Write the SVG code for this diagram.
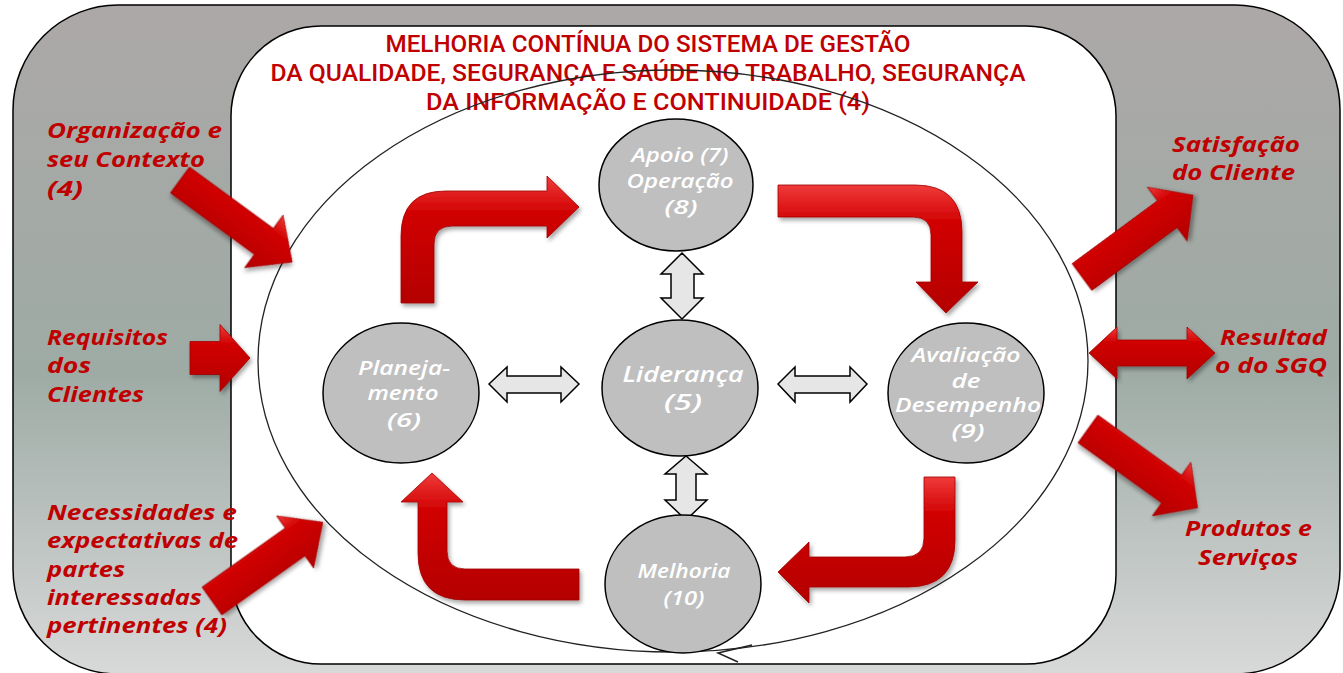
<svg xmlns="http://www.w3.org/2000/svg" width="1343" height="673" viewBox="0 0 1343 673">
<style>
.title{font-family:Roboto,"Liberation Sans",sans-serif;font-weight:500;font-size:24px;fill:#c00000;text-anchor:middle}
.lbl{font-family:"Open Sans","Liberation Sans",sans-serif;font-style:italic;font-weight:700;font-size:22px;fill:#c00000}
.nt{font-family:"Open Sans","Liberation Sans",sans-serif;font-style:italic;font-weight:600;font-size:20px;fill:#ffffff;text-anchor:middle}
.node{fill:#bfbfbf;stroke:#000;stroke-width:1.5}
.red{fill:url(#redg);stroke:#a00000;stroke-width:0.8;filter:url(#sh)}
.gray{fill:#e6e6e6;stroke:#000;stroke-width:1.5}
</style>
<defs>
<linearGradient id="bg" x1="0" y1="0" x2="0" y2="1">
<stop offset="0" stop-color="#aca8a7"/>
<stop offset="0.55" stop-color="#9eaba5"/>
<stop offset="1" stop-color="#d8d9d9"/>
</linearGradient>
<linearGradient id="redg" x1="0" y1="0" x2="0" y2="1">
<stop offset="0" stop-color="#f03a3a"/>
<stop offset="0.3" stop-color="#d00000"/>
<stop offset="1" stop-color="#b40000"/>
</linearGradient>
<filter id="sh" x="-20%" y="-20%" width="140%" height="140%">
<feDropShadow dx="2" dy="3" stdDeviation="2" flood-color="#000" flood-opacity="0.35"/>
</filter>
</defs>

<g id="background">
<rect x="13" y="5" width="1327" height="669" rx="105" fill="url(#bg)" stroke="#000" stroke-width="1.5"/>
<rect x="231" y="26" width="885" height="638" rx="90" fill="#fff" stroke="#000" stroke-width="1.5"/>
</g>

<g id="title">
<text class="title" x="648" y="52" textLength="525" lengthAdjust="spacingAndGlyphs">MELHORIA CONTÍNUA DO SISTEMA DE GESTÃO</text>
<text class="title" x="648" y="81" textLength="755" lengthAdjust="spacingAndGlyphs">DA QUALIDADE, SEGURANÇA E SAÚDE NO TRABALHO, SEGURANÇA</text>
<text class="title" x="648" y="110" textLength="444" lengthAdjust="spacingAndGlyphs">DA INFORMAÇÃO E CONTINUIDADE (4)</text>
</g>

<g id="labels">
<text class="lbl" x="47" y="138" textLength="175" lengthAdjust="spacingAndGlyphs">Organização e</text>
<text class="lbl" x="47" y="167" textLength="158" lengthAdjust="spacingAndGlyphs">seu Contexto</text>
<text class="lbl" x="47" y="196" textLength="36" lengthAdjust="spacingAndGlyphs">(4)</text>
<text class="lbl" x="47" y="345" textLength="121" lengthAdjust="spacingAndGlyphs">Requisitos</text>
<text class="lbl" x="47" y="373" textLength="44" lengthAdjust="spacingAndGlyphs">dos</text>
<text class="lbl" x="47" y="402" textLength="97" lengthAdjust="spacingAndGlyphs">Clientes</text>
<text class="lbl" x="47" y="520" textLength="190" lengthAdjust="spacingAndGlyphs">Necessidades e</text>
<text class="lbl" x="47" y="548" textLength="191" lengthAdjust="spacingAndGlyphs">expectativas de</text>
<text class="lbl" x="47" y="577" textLength="78" lengthAdjust="spacingAndGlyphs">partes</text>
<text class="lbl" x="47" y="605" textLength="155" lengthAdjust="spacingAndGlyphs">interessadas</text>
<text class="lbl" x="47" y="633" textLength="180" lengthAdjust="spacingAndGlyphs">pertinentes (4)</text>
<text class="lbl" x="1172" y="152" textLength="128" lengthAdjust="spacingAndGlyphs">Satisfação</text>
<text class="lbl" x="1172" y="180" textLength="123" lengthAdjust="spacingAndGlyphs">do Cliente</text>
<text class="lbl" x="1220" y="345" textLength="107" lengthAdjust="spacingAndGlyphs">Resultad</text>
<text class="lbl" x="1215" y="373" textLength="112" lengthAdjust="spacingAndGlyphs">o do SGQ</text>
<text class="lbl" x="1185" y="536" textLength="127" lengthAdjust="spacingAndGlyphs">Produtos e</text>
<text class="lbl" x="1198" y="565" textLength="100" lengthAdjust="spacingAndGlyphs">Serviços</text>
</g>

<g id="connectors">
<ellipse cx="673" cy="361" rx="415" ry="291" fill="none" stroke="#222" stroke-width="1.3"/>
<path d="M752,645 L718,653 L738,662" fill="none" stroke="#222" stroke-width="1.5"/>
<path class="gray" d="M682,253 L703,274 H694 V298 H703 L682,319 L661,298 H671 V274 H661 Z"/>
<path class="gray" d="M686,456 L707,474 H696 V500 H707 L686,520 L665,500 H676 V474 H665 Z"/>
<path class="gray" d="M489,384 L507,367 V376 H561 V367 L579,384 L561,402 V393 H507 V402 Z"/>
<path class="gray" d="M778,384 L795,367 V376 H850 V367 L867,384 L850,402 V393 H795 V402 Z"/>
<path class="red" d="M401,303 L401,236 Q401,191 446,191 L547,191 L547,176 L579,207 L547,238 L547,226 L452,226 Q434,226 434,244 L434,303 Z"/>
<path class="red" d="M778,185 L915,185 Q962,185 962,232 L962,282 L978,282 L946,313 L916,282 L931,282 L931,235 Q931,217 913,217 L778,217 Z"/>
<path class="red" d="M924,477 L955,477 L955,540 Q955,587 908,587 L809,587 L809,603 L778,572 L809,542 L809,557 L905,557 Q924,557 924,538 Z"/>
<path class="red" d="M579,569 L465,569 Q447,569 447,551 L447,502 L463,502 L432,473 L401,502 L418,502 L418,553 Q418,600 465,600 L579,600 Z"/>
<path class="red" transform="translate(180,180) rotate(36.2)" d="M0,-16 H104 V-32.5 L139,0 L104,32.5 V16 H0 Z"/>
<path class="red" transform="translate(190,358)" d="M0,-16.5 H30 V-33.5 L60,0 L30,33.5 V16.5 H0 Z"/>
<path class="red" transform="translate(212,601) rotate(-35.4)" d="M0,-17 H102 V-32 L136,0 L102,32 V17 H0 Z"/>
<path class="red" transform="translate(1082,277) rotate(-36.4)" d="M0,-16.5 H106 V-33.5 L138,0 L106,33.5 V16.5 H0 Z"/>
<path class="red" d="M1089,353 L1117,327 V340 H1187 V327 L1215,353 L1187,379 V366 H1117 V379 Z"/>
<path class="red" transform="translate(1088,429) rotate(35.7)" d="M0,-17 H103 V-33 L135,0 L103,33 V17 H0 Z"/>
</g>

<g id="node-apoio">
<ellipse class="node" cx="676" cy="185" rx="77" ry="66"/>
<text class="nt" x="680" y="162" textLength="97" lengthAdjust="spacingAndGlyphs">Apoio (7)</text>
<text class="nt" x="680" y="188" textLength="107" lengthAdjust="spacingAndGlyphs">Operação</text>
<text class="nt" x="681" y="214" textLength="33" lengthAdjust="spacingAndGlyphs">(8)</text>
</g>
<g id="node-lideranca">
<ellipse class="node" cx="680" cy="388" rx="78" ry="68"/>
<text class="nt" x="683" y="382" style="font-size:22px" textLength="121" lengthAdjust="spacingAndGlyphs">Liderança</text>
<text class="nt" x="683" y="410" style="font-size:22px" textLength="38" lengthAdjust="spacingAndGlyphs">(5)</text>
</g>
<g id="node-planejamento">
<ellipse class="node" cx="401" cy="393" rx="78" ry="70"/>
<text class="nt" x="404" y="375" textLength="92" lengthAdjust="spacingAndGlyphs">Planeja-</text>
<text class="nt" x="403" y="400" textLength="71" lengthAdjust="spacingAndGlyphs">mento</text>
<text class="nt" x="404" y="427" textLength="34" lengthAdjust="spacingAndGlyphs">(6)</text>
</g>
<g id="node-avaliacao">
<ellipse class="node" cx="966" cy="393" rx="78" ry="70"/>
<text class="nt" x="966" y="362" textLength="109" lengthAdjust="spacingAndGlyphs">Avaliação</text>
<text class="nt" x="966" y="388" textLength="29" lengthAdjust="spacingAndGlyphs">de</text>
<text class="nt" x="968" y="412" textLength="146" lengthAdjust="spacingAndGlyphs">Desempenho</text>
<text class="nt" x="968" y="438" textLength="33" lengthAdjust="spacingAndGlyphs">(9)</text>
</g>
<g id="node-melhoria">
<ellipse class="node" cx="683" cy="584" rx="78" ry="69"/>
<text class="nt" x="684" y="578" textLength="93" lengthAdjust="spacingAndGlyphs">Melhoria</text>
<text class="nt" x="684" y="605" textLength="41" lengthAdjust="spacingAndGlyphs">(10)</text>
</g>
</svg>
